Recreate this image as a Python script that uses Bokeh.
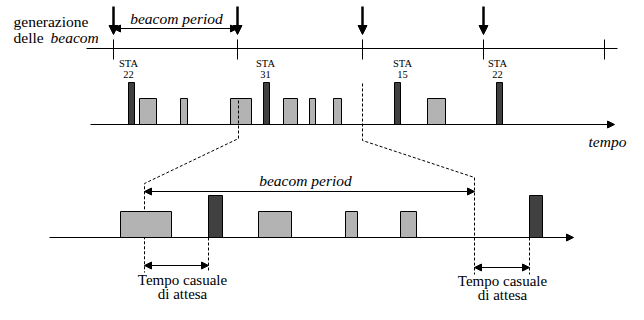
from bokeh.plotting import figure
from bokeh.models import Range1d, Arrow, NormalHead, Label
from bokeh.embed import file_html
from bokeh.resources import INLINE

FONT = "Liberation Serif"
FS = "15.5px"

# ---- top timeline: beacon generation ----
top_line_y = 48
top_line_x = [86, 617]
tick_x = [113, 237, 362, 483, 604]
tick_y0, tick_y1 = 39, 59
beacon_arrow_x = [113, 237, 362, 483]
beacon_arrow_y0, beacon_arrow_y1 = 6, 34
period_top = dict(x0=113, x1=237, y=28)

# STA labels
sta_x = [128, 265, 402, 497]
sta_ids = ["22", "31", "15", "22"]

# ---- middle timeline ----
mid_y = 124
mid_x = [90, 614]
dark_left = [128, 263, 394, 496]
dark_right = [134, 269, 400, 502]
dark_top = 82
gray_left = [139, 180, 230, 283, 309, 333, 427]
gray_right = [156, 187, 251, 297, 315, 341, 445]
gray_top = 98

# zoom dashed connectors
zoom_left_x = [238, 238, 144, 144]
zoom_left_y = [100, 138, 183, 272]
zoom_right_x = [362, 362, 474, 474]
zoom_right_y = [83, 140, 177, 274]

# ---- bottom (zoomed) timeline ----
bot_y = 237
bot_x = [49, 573]
bdark_left = [208, 529]
bdark_right = [222, 542]
bdark_top = 195
bgray_left = [120, 258, 345, 400]
bgray_right = [171, 291, 357, 416]
bgray_top = 211
period_bot = dict(x0=144, x1=474, y=191)
wait_dash_x = [208, 529]
wait_dash_y0 = bot_y
wait_dash_y1 = [272, 274]
wait_arrows = [(144, 208, 265), (474, 529, 267)]
wait_label_x = [182, 502]
wait_label_y = [(279, 293), (280, 294)]

p = figure(width=628, height=304, x_range=Range1d(0, 628), y_range=Range1d(304, 0),
           output_backend="svg", toolbar_location=None, min_border=0)
p.axis.visible = False
p.grid.visible = False
p.outline_line_color = None
p.background_fill_color = "white"

# top line and ticks
p.line(top_line_x, [top_line_y, top_line_y], line_color="black", line_width=1)
p.segment(x0=tick_x, y0=[tick_y0]*len(tick_x), x1=tick_x, y1=[tick_y1]*len(tick_x),
          line_color="black", line_width=1)

# beacon arrows
for bx in beacon_arrow_x:
    p.add_layout(Arrow(end=NormalHead(size=9, fill_color="black", line_color="black"),
                       x_start=bx, y_start=beacon_arrow_y0, x_end=bx, y_end=beacon_arrow_y1,
                       line_width=2.5, line_color="black"))

def double_arrow(x0, x1, y, size=7):
    p.add_layout(Arrow(start=NormalHead(size=size, fill_color="black", line_color="black"),
                       end=NormalHead(size=size, fill_color="black", line_color="black"),
                       x_start=x0, y_start=y, x_end=x1, y_end=y,
                       line_width=1, line_color="black"))

double_arrow(period_top["x0"], period_top["x1"], period_top["y"])

def label(x, y, text, size=FS, style="normal", align="center"):
    p.add_layout(Label(x=x, y=y, text=text, text_font=FONT, text_font_size=size,
                       text_font_style=style, text_align=align, text_baseline="middle",
                       text_color="black"))

label(13, 21, "generazione", align="left")
label(13, 37, "delle", align="left")
label(50, 37, "beacom", style="italic", align="left")
label(176, 18, "beacom period", style="italic")

for sx, sid in zip(sta_x, sta_ids):
    label(sx, 63, "STA", size="10.5px")
    label(sx, 74, sid, size="10.5px")

# middle timeline
p.add_layout(Arrow(end=NormalHead(size=7, fill_color="black", line_color="black"),
                   x_start=mid_x[0], y_start=mid_y, x_end=mid_x[1], y_end=mid_y,
                   line_width=1, line_color="black"))
label(588, 141, "tempo", style="italic", align="left")

p.quad(left=gray_left, right=gray_right, top=[gray_top]*len(gray_left), bottom=[mid_y]*len(gray_left),
       fill_color="#b3b3b3", line_color="black", line_width=1)
p.quad(left=dark_left, right=dark_right, top=[dark_top]*len(dark_left), bottom=[mid_y]*len(dark_left),
       fill_color="#404040", line_color="black", line_width=1)

# dashed zoom connectors
p.multi_line(xs=[zoom_left_x, zoom_right_x], ys=[zoom_left_y, zoom_right_y],
             line_color="black", line_dash="3 2", line_width=1)

# bottom timeline
p.add_layout(Arrow(end=NormalHead(size=7, fill_color="black", line_color="black"),
                   x_start=bot_x[0], y_start=bot_y, x_end=bot_x[1], y_end=bot_y,
                   line_width=1, line_color="black"))
p.quad(left=bgray_left, right=bgray_right, top=[bgray_top]*len(bgray_left), bottom=[bot_y]*len(bgray_left),
       fill_color="#b3b3b3", line_color="black", line_width=1)
p.quad(left=bdark_left, right=bdark_right, top=[bdark_top]*len(bdark_left), bottom=[bot_y]*len(bdark_left),
       fill_color="#404040", line_color="black", line_width=1)

double_arrow(period_bot["x0"], period_bot["x1"], period_bot["y"])
label(305, 180, "beacom period", style="italic")

p.segment(x0=wait_dash_x, y0=[wait_dash_y0]*2, x1=wait_dash_x, y1=wait_dash_y1,
          line_color="black", line_dash="3 2", line_width=1)
for (x0, x1, y) in wait_arrows:
    double_arrow(x0, x1, y)
for lx, (y1, y2) in zip(wait_label_x, wait_label_y):
    label(lx, y1, "Tempo casuale", size="15px")
    label(lx, y2, "di attesa", size="15px")

open("out.html", "w").write(file_html(p, INLINE))
